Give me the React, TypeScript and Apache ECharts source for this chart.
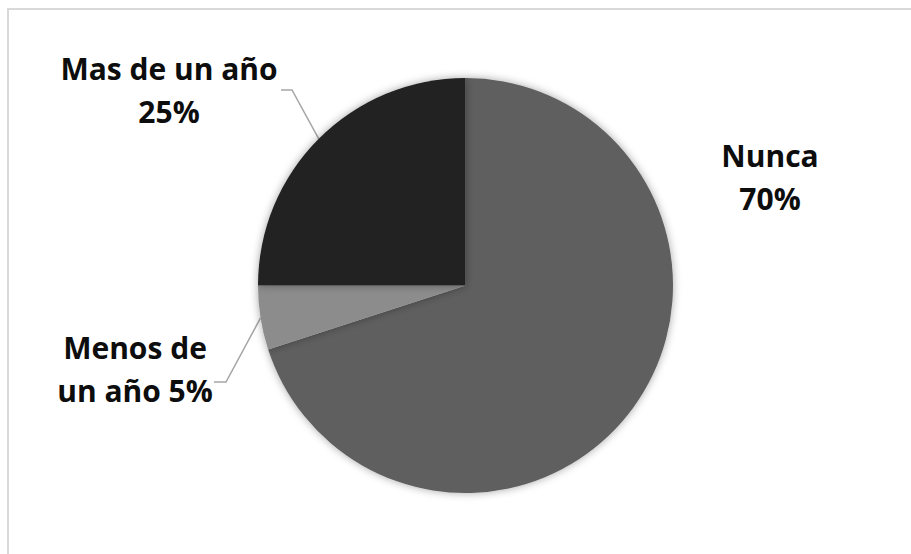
import React, { useEffect, useRef } from "react";
import * as echarts from "echarts";

const categories = ["Nunca", "Menos de un año", "Mas de un año"];
const values = [70, 5, 25];
const labelTexts = ["Nunca\n{p}%", "Menos de\nun año {p}%", "Mas de un año\n{p}%"];
const colors = ["#5f5f5f", "#8c8c8c", "#202020"];

// label block centres (layout only)
const labelPos = [
  [770, 177],
  [135, 369],
  [169, 90],
];

export default function App() {
  const ref = useRef<HTMLDivElement>(null);
  useEffect(() => {
    document.body.style.margin = "0";
    const chart = echarts.init(ref.current!, undefined, { renderer: "svg" });
    chart.setOption({
      animation: false,
      backgroundColor: "#ffffff",
      graphic: [
        {
          type: "rect",
          shape: { x: 8, y: 9, width: 1000, height: 1000 },
          style: { fill: "none", stroke: "#d9d9d9", lineWidth: 2 },
          silent: true,
        },
      ],
      series: [
        {
          type: "pie",
          center: [465.5, 285.5],
          radius: 207.5,
          startAngle: 90,
          clockwise: true,
          avoidLabelOverlap: false,
          itemStyle: {
            shadowBlur: 8,
            shadowColor: "rgba(0,0,0,0.35)",
          },
          label: {
            show: true,
            position: "outside",
            alignTo: "none",
            fontFamily: "Open Sans",
            fontWeight: "bold",
            fontSize: 30,
            lineHeight: 43,
            color: "#0d0d0d",
            formatter: (p: any) =>
              labelTexts[p.dataIndex].replace("{p}", Math.round(p.percent).toString()),
          },
          labelLine: {
            show: true,
            lineStyle: { color: "#a6a6a6", width: 1.5 },
          },
          labelLayout: (params: any) => {
            const i = params.dataIndex;
            const [cx, cy] = labelPos[i];
            const res: any = { x: cx, y: cy, align: "center", verticalAlign: "middle" };
            const pts = params.labelLinePoints;
            if (pts && i === 2) {
              res.labelLinePoints = [pts[0], [292, 90], [281, 90]];
            } else if (pts && i === 1) {
              res.labelLinePoints = [pts[0], [226, 382], [214, 382]];
            }
            return res;
          },
          data: categories.map((name, i) => ({
            name,
            value: values[i],
            itemStyle: { color: colors[i] },
            labelLine: { show: i !== 0 },
          })),
        },
      ],
    });
    return () => chart.dispose();
  }, []);
  return <div ref={ref} style={{ width: 911, height: 554, overflow: "hidden" }} />;
}
